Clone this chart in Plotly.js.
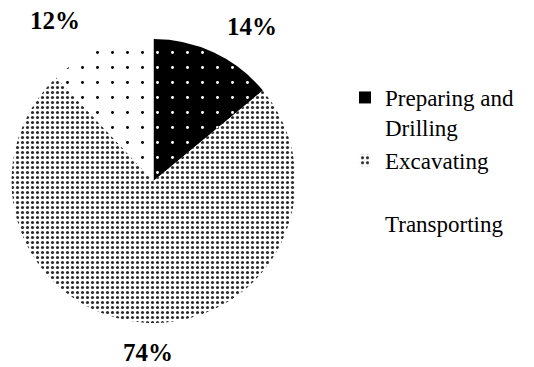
<!DOCTYPE html>
<html><head><meta charset="utf-8">
<script src="https://cdn.plot.ly/plotly-3.0.1.min.js"></script>
<style>html,body{margin:0;padding:0;background:#fff}#chart{width:534px;height:367px}</style>
</head><body><div id="chart"></div>
<script>
const categories = ["Preparing and<br>Drilling", "Excavating<br> ", "Transporting"];
const values = [14, 74, 12];
const labelPos = [[252, 27], [148, 352], [55, 20]]; // label anchor (px) for each slice

const W = 534, H = 367;
const cx = 153.5, cy = 181, R = 142;
const total = values.reduce((a, b) => a + b, 0);

const trace = {
  type: 'pie',
  labels: categories,
  values: values,
  sort: false,
  direction: 'clockwise',
  rotation: 0,
  textinfo: 'none',
  hoverinfo: 'label+percent',
  domain: {x: [(cx - R) / W, (cx + R) / W], y: [1 - (cy + R) / H, 1 - (cy - R) / H]},
  marker: {
    colors: ['#000000', '#ffffff', '#ffffff'],
    line: {width: 0},
    pattern: {
      shape: ['.', '.', '.'],
      bgcolor: ['#000000', '#ffffff', '#ffffff'],
      fgcolor: ['#ffffff', '#2a2a2a', '#000000'],
      size: [15, 5, 15],
      solidity: [0.03, 0.3, 0.03],
      fillmode: 'replace'
    }
  }
};

const annotations = values.map((v, i) => ({
  text: '<b>' + Math.round(v / total * 100) + '%</b>',
  xref: 'paper', yref: 'paper',
  x: labelPos[i][0] / W, y: 1 - labelPos[i][1] / H,
  xanchor: 'center', yanchor: 'middle',
  showarrow: false,
  font: {family: 'Liberation Serif', size: 25, color: '#000'}
}));

const layout = {
  width: W, height: H,
  margin: {l: 0, r: 0, t: 0, b: 0},
  paper_bgcolor: '#fff',
  showlegend: true,
  legend: {
    x: 345 / W, y: 1 - 76 / H, xanchor: 'left', yanchor: 'top',
    valign: 'top',
    font: {family: 'Liberation Serif', size: 23, color: '#000'},
    bgcolor: 'rgba(0,0,0,0)'
  },
  annotations: annotations
};

Plotly.newPlot('chart', [trace], layout, {displayModeBar: false, staticPlot: true});
</script></body></html>
